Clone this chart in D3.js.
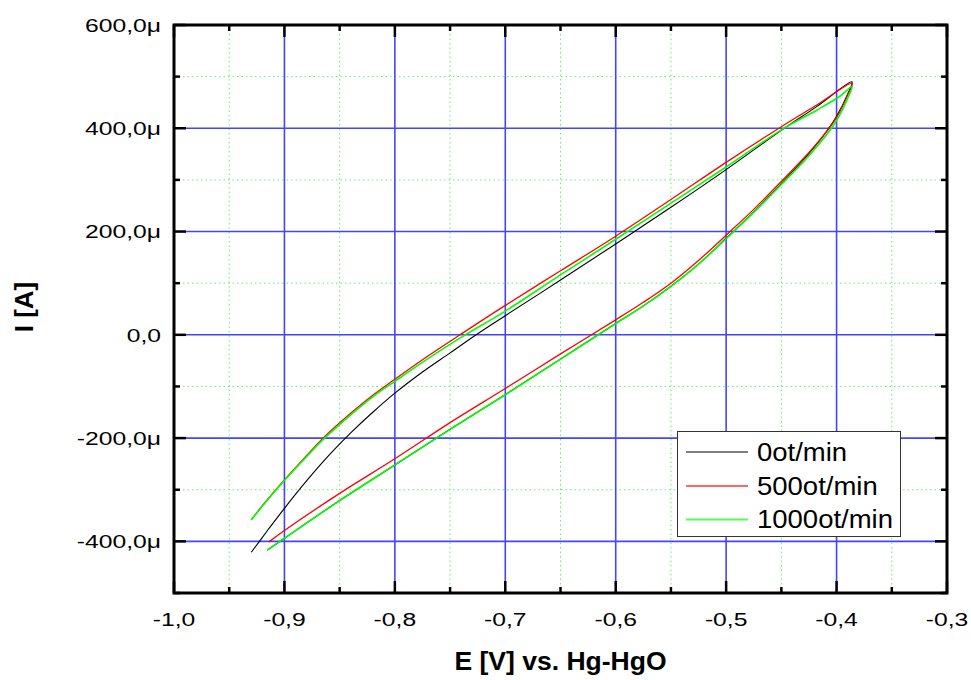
<!DOCTYPE html>
<html>
<head>
<meta charset="utf-8">
<script src="https://cdn.jsdelivr.net/npm/d3@7/dist/d3.min.js"></script>
<style>
  html, body { margin: 0; padding: 0; background: #fff; }
  svg { display: block; font-family: "Liberation Sans", Arial, sans-serif; }
</style>
</head>
<body>
<svg id="chart" width="971" height="680"></svg>
<script>
// ---- data (E in V, I in µA) ----
const seriesNames = ["0ot/min", "500ot/min", "1000ot/min"];
const seriesColors = ["#000000", "#ff0000", "#00ff00"];
const legendColors = ["#000000", "#ff3333", "#55ff55"];

const black0 = [
  [-0.930,-421],[-0.915,-378],[-0.900,-336],[-0.880,-283],[-0.860,-234],[-0.840,-190],
  [-0.820,-150],[-0.800,-113],[-0.775,-72],[-0.750,-35],[-0.725,2],[-0.700,37],
  [-0.650,106],[-0.600,176],[-0.550,247],[-0.500,320],[-0.450,396],[-0.418,442],
  [-0.386,490],
  [-0.390,466],[-0.400,423],[-0.410,391],[-0.425,351],[-0.450,293],[-0.475,238],
  [-0.500,187],[-0.525,137],[-0.550,94],[-0.575,56],[-0.600,22],[-0.650,-47],
  [-0.700,-116],[-0.750,-183],[-0.800,-252],[-0.850,-321],[-0.900,-394],[-0.9155,-417]
];
const red500 = [
  [-0.930,-358],[-0.915,-318],[-0.900,-281],[-0.880,-234],[-0.865,-200],[-0.840,-152],
  [-0.820,-117],[-0.800,-86],[-0.770,-41],[-0.741,0],[-0.700,57],[-0.650,124],
  [-0.600,191],[-0.550,262],[-0.500,334],[-0.450,403],[-0.418,445],[-0.386,487],
  [-0.390,464],[-0.400,421],[-0.410,391],[-0.425,353],[-0.450,297],[-0.475,243],
  [-0.500,193],[-0.525,144],[-0.550,100],[-0.575,63],[-0.600,29],[-0.650,-37],
  [-0.700,-104],[-0.750,-170],[-0.800,-240],[-0.850,-307],[-0.900,-379],[-0.914,-401]
];
const green1000 = [
  [-0.930,-358],[-0.915,-319],[-0.900,-282],[-0.880,-236],[-0.865,-203],[-0.840,-155],
  [-0.820,-120],[-0.800,-90],[-0.770,-46],[-0.740,-5],[-0.700,46],[-0.650,116],
  [-0.600,185],[-0.550,255],[-0.500,325],[-0.450,397],[-0.418,435],[-0.397,462],
  [-0.386,481],
  [-0.390,458],[-0.400,415],[-0.410,385],[-0.425,347],[-0.450,291],[-0.475,237],
  [-0.500,186],[-0.525,137],[-0.550,94],[-0.575,56],[-0.600,22],[-0.650,-47],
  [-0.700,-116],[-0.750,-183],[-0.800,-252],[-0.850,-321],[-0.900,-394],[-0.9155,-417]
];

const xMajorTicks = [-1.0,-0.9,-0.8,-0.7,-0.6,-0.5,-0.4,-0.3];
const xTickLabels = ["-1,0","-0,9","-0,8","-0,7","-0,6","-0,5","-0,4","-0,3"];
const xMinorTicks = [-0.95,-0.85,-0.75,-0.65,-0.55,-0.45,-0.35];
const yMajorTicks = [-400,-200,0,200,400,600];
const yTickLabels = ["-400,0μ","-200,0μ","0,0","200,0μ","400,0μ","600,0μ"];
const yMinorTicks = [-500,-300,-100,100,300,500];

const xTitle = "E [V] vs. Hg-HgO";
const yTitle = "I [A]";

// ---- layout ----
const L = 174, R = 947, T = 25, B = 593;
const svg = d3.select("#chart");
const x = d3.scaleLinear().domain([-1.0, -0.3]).range([L, R]);
const y = d3.scaleLinear().domain([-500, 600]).range([B, T]);

// minor grid (green dotted)
const g = svg.append("g");
g.selectAll(".vminor").data(xMinorTicks).join("line")
  .attr("x1", d => x(d)).attr("x2", d => x(d)).attr("y1", T).attr("y2", B)
  .attr("stroke", "#66ee66").attr("stroke-width", 1).attr("stroke-dasharray", "1.5,3");
g.selectAll(".hminor").data(yMinorTicks.filter(d => d > -500)).join("line")
  .attr("x1", L).attr("x2", R).attr("y1", d => y(d)).attr("y2", d => y(d))
  .attr("stroke", "#66ee66").attr("stroke-width", 1).attr("stroke-dasharray", "1.5,3");
// major grid (blue)
g.selectAll(".vmajor").data(xMajorTicks.filter(d => d > -1.0 && d < -0.3)).join("line")
  .attr("x1", d => x(d)).attr("x2", d => x(d)).attr("y1", T).attr("y2", B)
  .attr("stroke", "#4444ff").attr("stroke-width", 1.6);
g.selectAll(".hmajor").data(yMajorTicks.filter(d => d < 600)).join("line")
  .attr("x1", L).attr("x2", R).attr("y1", d => y(d)).attr("y2", d => y(d))
  .attr("stroke", "#4444ff").attr("stroke-width", 1.6);

// curves
const line = d3.line().x(d => x(d[0])).y(d => y(d[1])).curve(d3.curveCatmullRom.alpha(0.5));
const allSeries = [black0, red500, green1000];
const widths = [1.1, 1.3, 1.6];
allSeries.forEach((s, i) => {
  svg.append("path").datum(s).attr("d", line)
    .attr("fill", "none").attr("stroke", seriesColors[i]).attr("stroke-width", widths[i])
    .attr("stroke-linejoin", "round");
});

// axes with inward ticks
const tickW = 2.5;
function ticks(vals, len, isX, side) {
  svg.append("g").selectAll("line").data(vals).join("line")
    .attr("x1", d => isX ? x(d) : (side === "l" ? L : R))
    .attr("x2", d => isX ? x(d) : (side === "l" ? L + len : R - len))
    .attr("y1", d => isX ? (side === "b" ? B : T) : y(d))
    .attr("y2", d => isX ? (side === "b" ? B - len : T + len) : y(d))
    .attr("stroke", "#000").attr("stroke-width", tickW);
}
ticks(xMajorTicks, 12, true, "b"); ticks(xMajorTicks, 12, true, "t");
ticks(xMinorTicks, 6, true, "b"); ticks(xMinorTicks, 6, true, "t");
ticks(yMajorTicks, 12, false, "l"); ticks(yMajorTicks, 12, false, "r");
ticks(yMinorTicks, 6, false, "l"); ticks(yMinorTicks, 6, false, "r");

svg.append("rect").attr("x", L).attr("y", T).attr("width", R - L).attr("height", B - T)
  .attr("fill", "none").attr("stroke", "#000").attr("stroke-width", 3);

// tick labels (reference glyphs are horizontally stretched)
const sx = 1.3;
svg.append("g").selectAll("text").data(xMajorTicks).join("text")
  .attr("transform", d => `translate(${x(d)},626) scale(${sx},1)`)
  .attr("text-anchor", "middle").attr("font-size", 19).attr("fill", "#000")
  .text((d, i) => xTickLabels[i]);
svg.append("g").selectAll("text").data(yMajorTicks).join("text")
  .attr("transform", d => `translate(161,${y(d) + 6.8}) scale(${sx},1)`)
  .attr("text-anchor", "end").attr("font-size", 19).attr("fill", "#000")
  .text((d, i) => yTickLabels[i]);

// axis titles
svg.append("text").attr("transform", `translate(${(L + R) / 2},670) scale(1.02,1)`)
  .attr("text-anchor", "middle").attr("font-size", 26).attr("font-weight", "bold").text(xTitle);
svg.append("text").attr("transform", `translate(33,${(T + B) / 2 - 2}) rotate(-90)`)
  .attr("text-anchor", "middle").attr("font-size", 26).attr("font-weight", "bold").text(yTitle);

// legend
const lg = svg.append("g");
lg.append("rect").attr("x", 677.5).attr("y", 431.5).attr("width", 223).attr("height", 105)
  .attr("fill", "#fff").attr("stroke", "#333").attr("stroke-width", 1);
const rowsY = [452, 486, 519.5];
seriesNames.forEach((n, i) => {
  lg.append("line").attr("x1", 686).attr("x2", 748).attr("y1", rowsY[i]).attr("y2", rowsY[i])
    .attr("stroke", legendColors[i]).attr("stroke-width", [1, 1.3, 2][i]);
  lg.append("text").attr("transform", `translate(757,${rowsY[i] + 8.8}) scale(1.1,1)`)
    .attr("font-size", 25).attr("fill", "#000").text(n);
});
</script>
</body>
</html>
